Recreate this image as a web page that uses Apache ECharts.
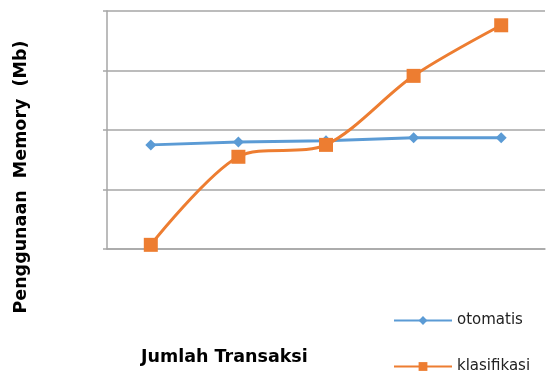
<!DOCTYPE html>
<html>
<head>
<meta charset="utf-8">
<script src="https://cdn.jsdelivr.net/npm/echarts@6/dist/echarts.min.js"></script>
<style>
  html, body { margin: 0; padding: 0; background: #fff; }
  #chart { width: 547px; height: 379px; }
</style>
</head>
<body>
<div id="chart"></div>
<script>
// data (y axis has no labels, unit = one grid step)
const categories = ['1', '2', '3', '4', '5']
const otomatis = [1.75, 1.80, 1.82, 1.87, 1.87]
const klasifikasi = [0.07, 1.55, 1.75, 2.91, 3.76]

const chart = echarts.init(document.getElementById('chart'))

const gridColor = '#a6a6a6'

// one legend per series so the items can sit far apart
const legendBase = {
  orient: 'vertical',
  left: 388,
  itemWidth: 58,
  itemHeight: 11,
  textStyle: {
    fontFamily: 'DejaVu Sans',
    fontSize: 15,
    color: '#222'
  }
}

chart.setOption({
  animation: false,
  title: {
    text: 'Jumlah Transaksi',
    left: 136,
    top: 343,
    textStyle: {
      fontFamily: 'DejaVu Sans',
      fontWeight: 'bold',
      fontSize: 17.5,
      color: '#000'
    }
  },
  // y axis title sits lower than the plot centre, so it is drawn as graphic text
  graphic: [{
    type: 'text',
    x: 21,
    y: 177,
    rotation: Math.PI / 2,
    style: {
      text: 'Penggunaan  Memory  (Mb)',
      font: 'bold 17.5px "DejaVu Sans"',
      fill: '#000',
      align: 'center',
      verticalAlign: 'middle'
    }
  }],
  legend: [
    { ...legendBase, top: 308, data: ['otomatis'] },
    { ...legendBase, top: 354, data: ['klasifikasi'] }
  ],
  grid: {
    left: 107,
    right: 2,
    top: 11,
    bottom: 130
  },
  xAxis: {
    type: 'category',
    data: categories,
    boundaryGap: true,
    axisLine: { show: true, lineStyle: { color: gridColor, width: 1.5 } },
    axisTick: { show: false },
    axisLabel: { show: false }
  },
  yAxis: {
    type: 'value',
    min: 0,
    max: 4,
    interval: 1,
    axisLine: { show: true, lineStyle: { color: gridColor, width: 1.5 } },
    axisTick: { show: true, length: 4, lineStyle: { color: gridColor, width: 1.5 } },
    axisLabel: { show: false },
    splitLine: { lineStyle: { color: gridColor, width: 1.5 } }
  },
  series: [
    {
      name: 'otomatis',
      type: 'line',
      data: otomatis,
      color: '#5B9BD5',
      symbol: 'diamond',
      symbolSize: 11,
      lineStyle: { width: 3 }
    },
    {
      name: 'klasifikasi',
      type: 'line',
      data: klasifikasi,
      color: '#ED7D31',
      smooth: 0.3,
      symbol: 'rect',
      symbolSize: 14,
      lineStyle: { width: 3 }
    }
  ]
})
</script>
</body>
</html>
